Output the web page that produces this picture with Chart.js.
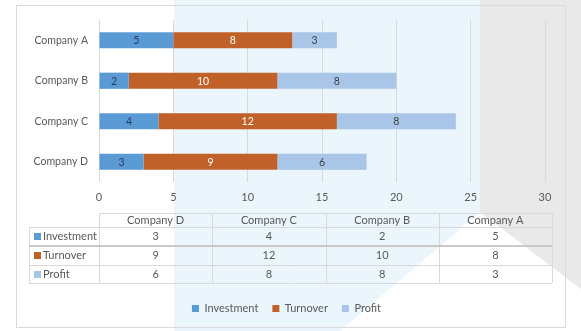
<!DOCTYPE html>
<html>
<head>
<meta charset="utf-8">
<script src="https://cdn.jsdelivr.net/npm/chart.js@4"></script>
<style>
  html, body { margin: 0; padding: 0; background: #fff; }
</style>
</head>
<body>
<canvas id="chart" width="581" height="331"></canvas>
<script>
  const companies = ['Company D', 'Company C', 'Company B', 'Company A']
  const investment = [3, 4, 2, 5]
  const turnover = [9, 12, 10, 8]
  const profit = [6, 8, 8, 3]
  const seriesNames = ['Investment', 'Turnover', 'Profit']
  const xMin = 0, xMax = 30, xStep = 5

  const colors = ['#5b9bd5', '#bf6128', '#a9c5e8']
  const labelColors = ['#263f5e', '#ffffff', '#404040']
  const textColor = '#595959'
  const fontName = 'Lato, "Open Sans", sans-serif'

  // background shapes and outer frame
  const backdrop = {
    id: 'backdrop',
    beforeDraw(chart) {
      const ctx = chart.ctx
      ctx.save()
      ctx.fillStyle = '#ffffff'
      ctx.fillRect(0, 0, chart.width, chart.height)
      ctx.fillStyle = '#eaf6fb'
      ctx.beginPath()
      ctx.moveTo(174, 0); ctx.lineTo(480, 0); ctx.lineTo(480, 212); ctx.lineTo(340, 331); ctx.lineTo(174, 331)
      ctx.closePath(); ctx.fill()
      ctx.fillStyle = '#e9e9e9'
      ctx.beginPath()
      ctx.moveTo(480, 0); ctx.lineTo(581, 0); ctx.lineTo(581, 289); ctx.lineTo(480, 212)
      ctx.closePath(); ctx.fill()
      ctx.strokeStyle = '#d9d9d9'
      ctx.lineWidth = 1
      ctx.strokeRect(16.5, 5.5, 549, 322)
      ctx.restore()
    }
  }

  // values written in the middle of every bar segment
  const barLabels = {
    id: 'barLabels',
    afterDatasetsDraw(chart) {
      const ctx = chart.ctx
      ctx.save()
      ctx.font = '10.5px ' + fontName
      ctx.textAlign = 'center'
      ctx.textBaseline = 'middle'
      chart.data.datasets.forEach((ds, i) => {
        const meta = chart.getDatasetMeta(i)
        meta.data.forEach((bar, j) => {
          const p = bar.getProps(['x', 'y', 'base'], true)
          ctx.fillStyle = labelColors[i]
          ctx.fillText(ds.data[j], (p.x + p.base) / 2, p.y + 0.5)
        })
      })
      ctx.restore()
    }
  }

  // data table under the axis
  const dataTable = {
    id: 'dataTable',
    afterDraw(chart) {
      const ctx = chart.ctx
      const area = chart.chartArea
      const left = area.left
      const colW = (area.right - area.left + 7) / companies.length
      const right = left + colW * companies.length
      const labelLeft = 29
      const rows = [area.bottom + 31, area.bottom + 45, area.bottom + 64, area.bottom + 83, area.bottom + 101]
      const series = [investment, turnover, profit]
      ctx.save()
      ctx.strokeStyle = '#d9d9d9'
      ctx.lineWidth = 1
      ctx.beginPath()
      ctx.moveTo(left, rows[0] + 0.5); ctx.lineTo(right, rows[0] + 0.5)
      for (let r = 1; r < rows.length; r++) {
        if (r === 2) continue
        ctx.moveTo(labelLeft, rows[r] + 0.5); ctx.lineTo(right, rows[r] + 0.5)
      }
      for (let c = 0; c <= companies.length; c++) {
        const x = Math.round(left + c * colW) + 0.5
        ctx.moveTo(x, rows[0]); ctx.lineTo(x, rows[4])
      }
      ctx.moveTo(labelLeft + 0.5, rows[1]); ctx.lineTo(labelLeft + 0.5, rows[4])
      ctx.stroke()
      ctx.strokeStyle = '#c9c9c9'
      ctx.lineWidth = 2
      ctx.beginPath()
      ctx.moveTo(labelLeft, rows[2]); ctx.lineTo(right, rows[2])
      ctx.stroke()

      ctx.font = '11px ' + fontName
      ctx.fillStyle = textColor
      ctx.textBaseline = 'middle'
      ctx.textAlign = 'center'
      companies.forEach((c, i) => {
        ctx.fillText(c, left + colW * (i + 0.5), (rows[0] + rows[1]) / 2)
      })
      series.forEach((vals, r) => {
        const cy = (rows[r + 1] + rows[r + 2]) / 2
        vals.forEach((v, i) => {
          ctx.fillText(v, left + colW * (i + 0.5), cy)
        })
      })
      ctx.textAlign = 'left'
      seriesNames.forEach((name, r) => {
        const cy = (rows[r + 1] + rows[r + 2]) / 2
        ctx.fillStyle = colors[r]
        ctx.fillRect(34, Math.round(cy - 3.5), 7, 7)
        ctx.fillStyle = textColor
        ctx.fillText(name, 43, cy)
      })
      ctx.restore()
    }
  }

  const config = {
    type: 'bar',
    data: {
      labels: companies,
      datasets: seriesNames.map((name, i) => ({
        label: name,
        data: [investment, turnover, profit][i],
        backgroundColor: colors[i],
        borderWidth: 0,
        barPercentage: 0.4,
        categoryPercentage: 1
      }))
    },
    options: {
      indexAxis: 'y',
      responsive: false,
      animation: false,
      devicePixelRatio: 1,
      layout: { padding: { top: 20, right: 36, bottom: 7, left: 28 } },
      scales: {
        x: {
          stacked: true,
          min: xMin,
          max: xMax,
          ticks: { stepSize: xStep, color: textColor, font: { family: fontName, size: 11 }, padding: 9 },
          grid: { color: '#d9d9d9', drawTicks: false },
          border: { display: false },
          afterFit(s) { s.height = 107 }
        },
        y: {
          stacked: true,
          reverse: true,
          ticks: { color: textColor, font: { family: fontName, size: 10.5 }, padding: 11 },
          grid: { display: false, drawTicks: false },
          border: { display: false },
          afterFit(s) { s.width = 71 }
        }
      },
      plugins: {
        legend: {
          position: 'bottom',
          labels: { boxWidth: 7, boxHeight: 7, padding: 14, color: textColor, font: { family: fontName, size: 11 } }
        },
        tooltip: { enabled: false }
      }
    },
    plugins: [backdrop, barLabels, dataTable]
  }

  const myChart = new Chart(document.getElementById('chart'), config)
</script>
</body>
</html>
